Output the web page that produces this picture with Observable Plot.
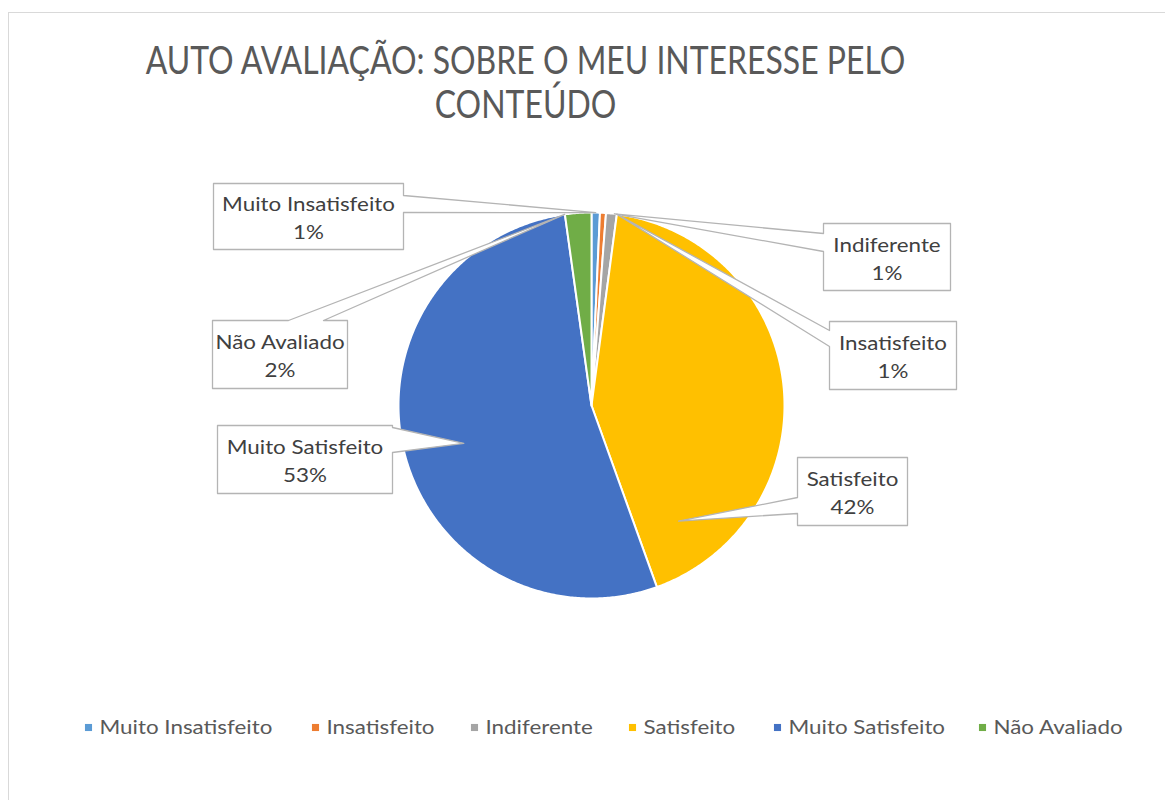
<!DOCTYPE html>
<html><head><meta charset="utf-8">
<script src="https://cdn.jsdelivr.net/npm/d3@7"></script>
<script src="https://cdn.jsdelivr.net/npm/@observablehq/plot@0.6"></script>
<style>
body{margin:0;background:#fff;}
#frame{position:absolute;left:8px;top:12px;width:1200px;height:830px;border:1px solid #d9d9d9;}
#chart{position:absolute;left:0;top:0;}
</style></head><body>
<div id="frame"></div><div id="chart"></div>
<script>
// ---- data ----
const categories = ["Muito Insatisfeito","Insatisfeito","Indiferente","Satisfeito","Muito Satisfeito","Não Avaliado"];
const values = [0.7, 0.5, 0.9, 42.4, 53.3, 2.2];
const percentLabels = ["1%","1%","1%","42%","53%","2%"];
const colors = ["#5B9BD5","#ED7D31","#A5A5A5","#FFC000","#4472C4","#70AD47"];
const titleLines = ["AUTO AVALIAÇÃO: SOBRE O MEU INTERESSE PELO","CONTEÚDO"];

// ---- layout (pixels) ----
const W = 1165, H = 800, CX = 591, CY = 405, R = 193;
const ux = px => (px - CX) / R, uy = py => (CY - py) / R;
const titleLayout = [{x:525, y:61}, {x:525, y:105}];
const calloutLayout = [
  {box:[213,183,403,249], side:"right", a:[195,212], tipR:1.0},
  {box:[829,321,956,389], side:"left",  a:[330,346], tipR:1.0, tipAngle:7.5},
  {box:[823,223,950,290], side:"left",  a:[233,251], tipR:1.0, tipAngle:6.8},
  {box:[797,457,907,525], side:"left",  a:[497,513], tipR:0.75, tipAngle:143},
  {box:[217,425,392,493], side:"right", a:[427,452], tipR:0.69, tipAngle:253.5},
  {box:[212,320,347,388], side:"top",   a:[288,323], tipR:1.0, tipAngle:352}
];
const legendX = [88, 315, 474, 632, 777, 982];
const legendY = 727;

// ---- slices ----
const arcs = d3.pie().sort(null).value(d => d.value)(
  categories.map((c, i) => ({category: c, value: values[i]})));
const slicePts = [];
arcs.forEach(s => {
  const c = s.data.category;
  const n = Math.max(2, Math.ceil((s.endAngle - s.startAngle) / (Math.PI / 360)));
  slicePts.push({category: c, x: 0, y: 0});
  for (let k = 0; k <= n; k++) {
    const a = s.startAngle + (s.endAngle - s.startAngle) * k / n;
    slicePts.push({category: c, x: Math.sin(a), y: Math.cos(a)});
  }
  slicePts.push({category: c, x: 0, y: 0});
});

// ---- callouts ----
const calloutPts = [], calloutLabels = [];
calloutLayout.forEach((L, i) => {
  const s = arcs[i];
  const ang = L.tipAngle != null ? L.tipAngle * Math.PI / 180 : (s.startAngle + s.endAngle) / 2;
  const tip = [Math.sin(ang) * L.tipR, Math.cos(ang) * L.tipR];
  const [x0, y0, x1, y1] = L.box;
  const P = (px, py) => [ux(px), uy(py)];
  let pts;
  if (L.side === "right") pts = [P(x0,y0), P(x1,y0), P(x1,L.a[0]), tip, P(x1,L.a[1]), P(x1,y1), P(x0,y1)];
  else if (L.side === "left") pts = [P(x0,y0), P(x1,y0), P(x1,y1), P(x0,y1), P(x0,L.a[1]), tip, P(x0,L.a[0])];
  else pts = [P(x0,y0), P(L.a[0],y0), tip, P(L.a[1],y0), P(x1,y0), P(x1,y1), P(x0,y1)];
  pts.push(pts[0]);
  pts.forEach(p => calloutPts.push({id: i, x: p[0], y: p[1]}));
  calloutLabels.push({x: ux((x0 + x1) / 2), y: uy((y0 + y1) / 2),
    text: categories[i] + "\n" + percentLabels[i]});
});

const titleData = titleLines.map((t, i) => ({text: t, x: ux(titleLayout[i].x), y: uy(titleLayout[i].y)}));
const legendData = categories.map((c, i) => ({category: c, x: ux(legendX[i]), tx: ux(legendX[i] + 11), y: uy(legendY)}));

const plot = Plot.plot({
  width: W, height: H, margin: 0,
  x: {domain: [ux(0), ux(W)], axis: null},
  y: {domain: [uy(H), uy(0)], axis: null},
  color: {domain: categories, range: colors},
  style: {fontFamily: "Lato, 'Open Sans', sans-serif", background: "transparent"},
  marks: [
    Plot.line(slicePts, {x: "x", y: "y", z: "category", fill: "category", stroke: "white", strokeWidth: 2, curve: "linear", strokeLinejoin: "round"}),
    Plot.line(calloutPts, {x: "x", y: "y", z: "id", fill: "white", stroke: "#b4b4b4", strokeWidth: 1.3, curve: "linear"}),
    Plot.text(calloutLabels, {x: "x", y: "y", text: "text", fontSize: 19, lineHeight: 1.47, fill: "#404040"}),
    Plot.text(titleData, {x: "x", y: "y", text: "text", fontSize: 39, fill: "#595959"}),
    Plot.dot(legendData, {x: "x", y: "y", symbol: "square", r: 4, fill: "category", stroke: null}),
    Plot.text(legendData, {x: "tx", y: "y", text: "category", textAnchor: "start", fontSize: 19, fill: "#595959"})
  ]
});
document.getElementById("chart").appendChild(plot);

// condense text horizontally to emulate the narrow Calibri face
const groups = plot.querySelectorAll('g[aria-label="text"]');
const condense = (g, k) => g.querySelectorAll("text").forEach(t => {
  const tr = t.getAttribute("transform") || "";
  t.setAttribute("transform", tr + ` scale(${k},1)`);
});
const titleW = groups[1].querySelector("text").getComputedTextLength();
const kTitle = 760 / titleW;
let legW = 0;
groups[2].querySelectorAll("text").forEach((t, i) => { if (i === 0) legW = t.getComputedTextLength(); });
const kLab = 173 / legW;
condense(groups[0], kLab);
condense(groups[1], kTitle);
condense(groups[2], kLab);
</script>
</body></html>
